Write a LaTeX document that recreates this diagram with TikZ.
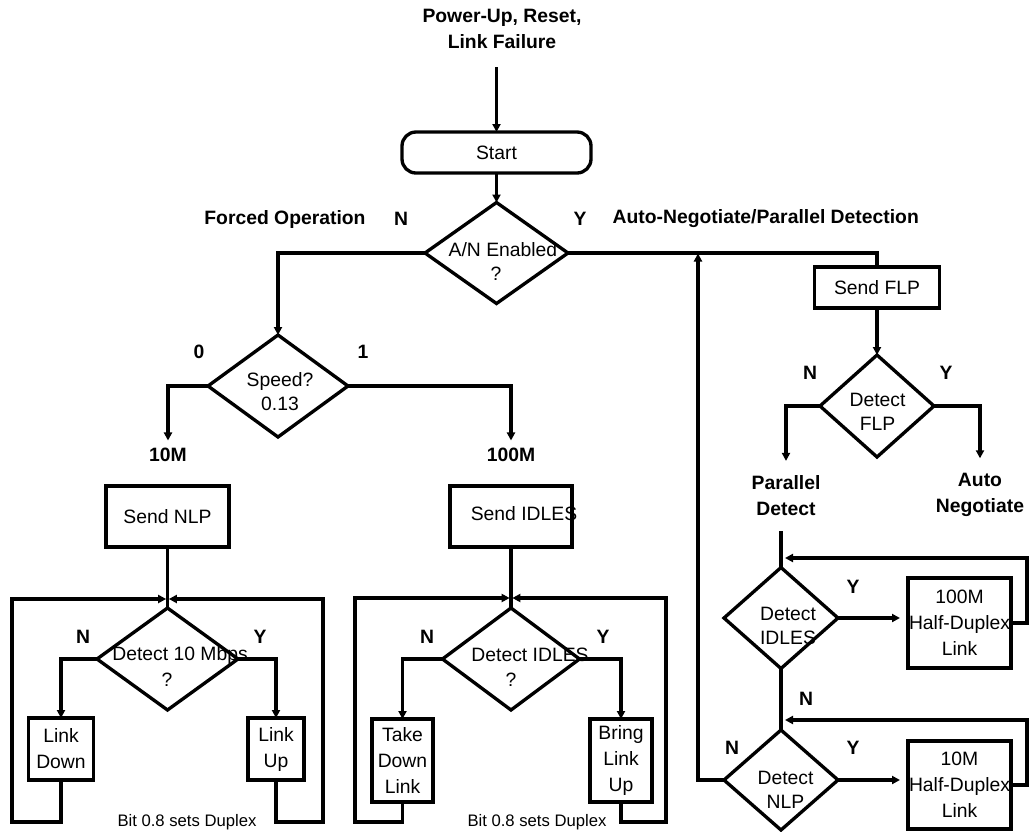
\documentclass[tikz,border=0pt]{standalone}
\usepackage{fontspec}
\setmainfont{Liberation Sans}
\usetikzlibrary{shapes.geometric,arrows.meta}
\begin{document}
\begin{tikzpicture}[x=0.75pt,y=-0.75pt,
  line width=2.5pt,
  every node/.style={font=\fontsize{14.5}{19.5}\selectfont},
  arr/.style={-{Triangle[length=6pt,width=6pt]}},
  box/.style 2 args={draw, rectangle, inner sep=0pt, outer sep=0pt, minimum width=#1*0.75pt, minimum height=#2*0.75pt, align=center},
  dia/.style 2 args={draw, diamond, inner sep=0pt, outer sep=0pt, minimum width=#1*0.75pt, minimum height=#2*0.75pt},
  txt/.style={inner sep=0pt, align=center},
  dtxt/.style={inner sep=0pt, align=center, font=\fontsize{14.5}{18}\selectfont},
  lbl/.style={inner sep=0pt, align=center, font=\fontsize{14.5}{19.5}\selectfont\bfseries},
  note/.style={inner sep=0pt, font=\fontsize{12.5}{15}\selectfont},
]
\useasboundingbox (0,0) rectangle (1029,832);

% ---- top ----
\node[lbl] (title) at (502,29) {Power-Up, Reset,\\Link Failure};
\coordinate (in0) at (496.5,67);
\node[box={189}{41}, rounded corners=10.5pt] (start) at (496.5,152.5) {Start};
\node[dia={143}{101}] (an) at (496.5,253) {};
\node[dtxt] (ant1) at (503,250) {A/N Enabled};
\node[dtxt] (ant2) at (496,274) {?};
\node[lbl] (forced) at (285,219) {Forced Operation};
\node[lbl] (anN) at (401,219) {N};
\node[lbl] (anY) at (580,219) {Y};
\node[lbl, anchor=west] (autopd) at (611,219) {Auto-Negotiate/Parallel Detection};

\draw[arr] (in0) -- (start.north);
\draw[arr] (start.south) -- (an.north);

% ---- speed ----
\node[dia={140}{102}] (speed) at (278,386) {};
\node[dtxt] (speedt) at (280,392) {Speed?\\0.13};
\node[lbl] (s0) at (199,352) {0};
\node[lbl] (s1) at (363,352) {1};
\node[lbl, inner ysep=4.5pt] (l10) at (168,455) {10M};
\node[lbl, inner ysep=4.5pt] (l100) at (511,455) {100M};
\draw[arr] (an.west) -| (speed.north);
\draw[arr] (speed.west) -| (l10.north);
\draw[arr] (speed.east) -| (l100.north);

% ---- left block (10M) ----
\node[box={123}{61}] (sendnlp) at (167.5,516.5) {Send NLP};
\node[dia={141}{102}] (det10) at (167.5,659) {};
\node[dtxt] (det10t1) at (180,655) {Detect 10 Mbps};
\node[dtxt] (det10t2) at (167,680) {?};
\node[box={65}{62}] (linkdown) at (61,749) {Link\\Down};
\node[box={56}{62}] (linkup) at (276,749) {Link\\Up};
\node[lbl] (d10N) at (83,637) {N};
\node[lbl] (d10Y) at (260,637) {Y};
\node[note] (bitA) at (187,822) {Bit 0.8 sets Duplex};
\coordinate (jA) at (167.5,599);
\coordinate (fA) at (12,822);
\coordinate (fB) at (323,822);
\draw (sendnlp.south) -- (det10.north);
\draw[arr] (det10.west) -| (linkdown.north);
\draw[arr] (det10.east) -| (linkup.north);
\draw[arr] (linkdown.south) |- (fA) |- ([xshift=-1pt]jA);
\draw[arr] (linkup.south) |- (fB) |- ([xshift=1pt]jA);

% ---- middle block (100M) ----
\node[box={122}{61}] (sendidles) at (511,516.5) {};
\node[txt] (sendidlest) at (524,514) {Send IDLES};
\node[dia={137}{102}] (detid) at (511,659) {};
\node[dtxt] (detidt1) at (530,655) {Detect IDLES};
\node[dtxt] (detidt2) at (511,680) {?};
\node[box={61}{83}] (takedown) at (402.5,760.5) {Take\\Down\\Link};
\node[box={62}{83}] (bringup) at (621,760.5) {Bring\\Link\\Up};
\node[lbl] (didN) at (427,637) {N};
\node[lbl] (didY) at (603,637) {Y};
\node[note] (bitB) at (537,822) {Bit 0.8 sets Duplex};
\coordinate (jB) at (511,598);
\coordinate (fC) at (355,822);
\coordinate (fD) at (666,822);
\draw (sendidles.south) -- (detid.north);
\draw[arr] (detid.west) -| (takedown.north);
\draw[arr] (detid.east) -| (bringup.north);
\draw[arr] (takedown.south) |- (fC) |- ([xshift=-1pt]jB);
\draw[arr] (bringup.south) |- (fD) |- ([xshift=1pt]jB);

% ---- right block (auto-negotiation) ----
\node[box={125}{41}] (sendflp) at (877,287.5) {Send FLP};
\node[dia={114}{102}] (detflp) at (877,406) {};
\node[dtxt] (detflpt) at (877.5,412) {Detect\\FLP};
\node[lbl] (dfN) at (810,373) {N};
\node[lbl] (dfY) at (946,373) {Y};
\node[lbl, inner ysep=10pt] (pd) at (786,496) {Parallel\\Detect};
\node[lbl, inner ysep=10pt] (autoneg) at (980,495) {Auto\\Negotiate};

\node[dia={114}{101}] (di2) at (781,618) {};
\node[dtxt] (di2t) at (788,625.5) {Detect\\IDLES};
\node[box={103}{90}] (box100) at (959.5,623) {100M\\Half-Duplex\\Link};
\node[lbl] (di2Y) at (853,587) {Y};
\node[lbl] (di2N) at (806,699) {N};

\node[dia={114}{100}] (dn) at (781,780) {};
\node[dtxt] (dnt) at (785.5,789.5) {Detect\\NLP};
\node[box={103}{88}] (box10) at (959.5,785) {10M\\Half-Duplex\\Link};
\node[lbl] (dnN) at (732,748) {N};
\node[lbl] (dnY) at (853,748) {Y};

\coordinate (j1) at (781,558);
\coordinate (j2) at (781,720);
\coordinate (upj) at (698,253.5);

\draw (an.east) -| (sendflp.north);
\draw[arr] (sendflp.south) -- (detflp.north);
\draw[arr] (detflp.west) -| (pd.north);
\draw[arr] (detflp.east) -| (autoneg.north);
\draw (pd.south -| di2.north) -- (di2.north);
\draw[arr] (box100.east) -- ++(16,0) |- ([xshift=3pt]j1);
\draw[arr, shorten >=6pt] (di2.east) -- (di2.east -| box100.west);
\draw (di2.south) -- (dn.north);
\draw[arr] (box10.east) -- ++(16,0) |- ([xshift=3pt]j2);
\draw[arr, shorten >=6pt] (dn.east) -- (dn.east -| box10.west);
\draw[arr] (dn.west) -| (upj);
\end{tikzpicture}
\end{document}
